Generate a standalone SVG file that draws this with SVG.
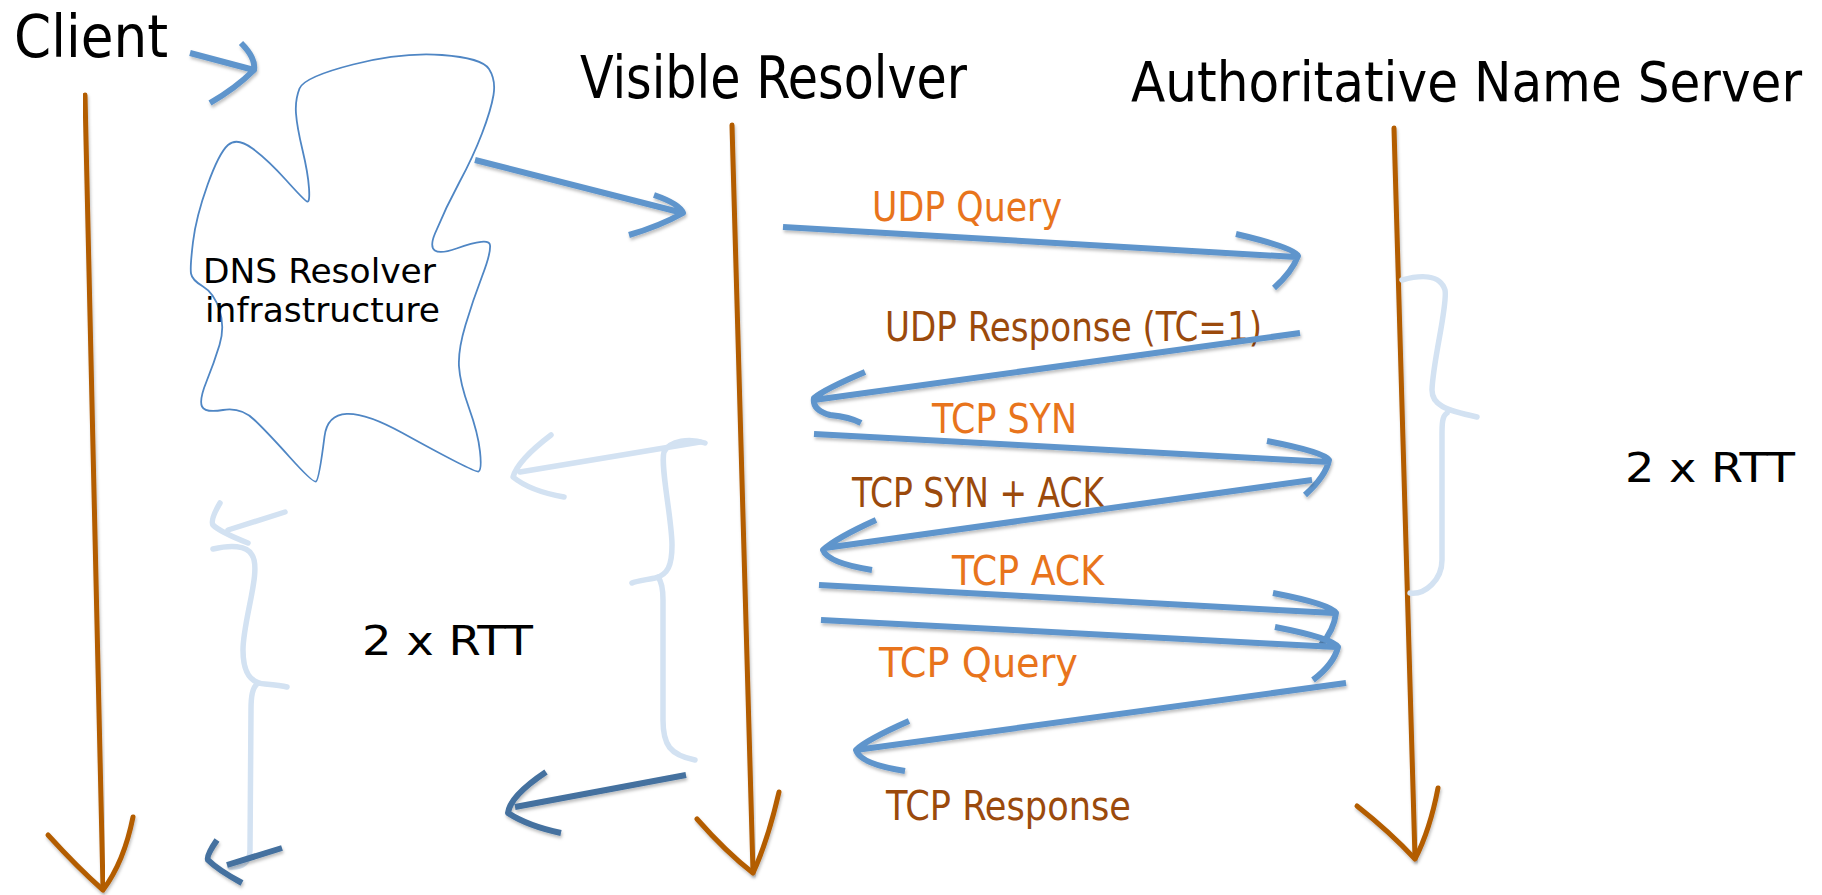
<svg xmlns="http://www.w3.org/2000/svg" width="1822" height="895" viewBox="0 0 1822 895">
<defs>
<filter id="sh" x="-10%" y="-10%" width="120%" height="130%">
<feDropShadow dx="1" dy="2.5" stdDeviation="1.5" flood-color="#000" flood-opacity="0.25"/>
</filter>
</defs>
<style>
text{font-family:"DejaVu Sans Condensed","DejaVu Sans",sans-serif;}
.title{font-size:58px;fill:#000;}
.lbl{font-size:40px;}
.or{fill:#e8741c;}
.br{fill:#9b4a0c;}
.blk{fill:#000;}
.life{fill:none;stroke:#b35d00;stroke-width:5;stroke-linecap:round;stroke-linejoin:round;filter:url(#sh);}
.arr{fill:none;stroke:#5f95cc;stroke-width:6;stroke-linecap:butt;stroke-linejoin:round;filter:url(#sh);}
.light{fill:none;stroke:#d3e2f2;stroke-width:5.5;stroke-linecap:round;stroke-linejoin:round;}
.dark{fill:none;stroke:#44719f;stroke-width:6;stroke-linecap:butt;stroke-linejoin:round;filter:url(#sh);}
.cloud{fill:none;stroke:#4f86c4;stroke-width:1.8;}
</style>
<rect width="1822" height="895" fill="#fff"/>

<g id="client">
<text class="title" x="14" y="57" textLength="154" lengthAdjust="spacingAndGlyphs">Client</text>
<path class="life" d="M85,95 L103,888"/>
<path class="life" d="M48,835 Q78,868 103,890 Q124,862 133,817"/>
</g>

<g id="visible-resolver">
<text class="title" x="580" y="98" textLength="387" lengthAdjust="spacingAndGlyphs">Visible Resolver</text>
<path class="life" d="M732,125 L753,872"/>
<path class="life" d="M697,819 Q726,852 753,873 Q768,840 779,792"/>
</g>

<g id="authoritative">
<text class="title" x="1131" y="101" font-size="55" textLength="671" lengthAdjust="spacingAndGlyphs" style="font-size:55px">Authoritative Name Server</text>
<path class="life" d="M1394,128 L1415,858"/>
<path class="life" d="M1357,806 Q1390,832 1415,859 Q1430,830 1438,788"/>
</g>

<g id="dns-cloud">
<path class="cloud" d="M299.5,88.5 Q304,77 353,64.5 Q402,52 442,55 Q482,58 489,69 Q496,80 493.5,95 Q491,110 482,133.5 Q473,157 459.5,182 Q446,207 435,233.5 Q424,260 456.5,248.5 Q489,237 490,245 Q491,253 482,276.5 Q473,300 465.5,325 Q458,350 459,366.5 Q460,383 469,408 Q478,433 480,451.5 Q482,470 478.5,471.5 Q475,473 402.5,433 Q330,393 324.5,436.5 Q319,480 316,481.5 Q313,483 290.5,458 Q268,433 254.5,420 Q241,407 223,410 Q205,413 202,406.5 Q199,400 206.5,381.5 Q214,363 219.5,345 Q225,327 219.5,310 Q214,293 203,286.5 Q192,280 191,273.5 Q190,267 193,242 Q196,217 207.5,185 Q219,153 228,145 Q237,137 252.5,148.5 Q268,160 286,180 Q304,200 307,201.5 Q310,203 309,188 Q308,173 302.5,150 Q297,127 296,113.5 Q295,100 299.5,88.5 Z"/>
<text class="blk" x="203" y="283" font-size="33.5" textLength="233" lengthAdjust="spacingAndGlyphs">DNS Resolver</text>
<text class="blk" x="205" y="322" font-size="33.5" textLength="235" lengthAdjust="spacingAndGlyphs">infrastructure</text>
</g>

<g id="rtt-left">
<text class="blk lbl" x="362" y="655" textLength="171" lengthAdjust="spacingAndGlyphs">2 x RTT</text>
</g>
<g id="rtt-right">
<text class="blk lbl" x="1625" y="482" textLength="170" lengthAdjust="spacingAndGlyphs">2 x RTT</text>
</g>

<g id="labels">
<text class="lbl or" x="872" y="221" textLength="190" lengthAdjust="spacingAndGlyphs">UDP Query</text>
<text class="lbl br" x="885" y="341" textLength="377" lengthAdjust="spacingAndGlyphs">UDP Response (TC=1)</text>
<text class="lbl or" x="932" y="433" textLength="145" lengthAdjust="spacingAndGlyphs">TCP SYN</text>
<text class="lbl br" x="852" y="507" textLength="252" lengthAdjust="spacingAndGlyphs">TCP SYN + ACK</text>
<text class="lbl or" x="952" y="585" textLength="152" lengthAdjust="spacingAndGlyphs">TCP ACK</text>
<text class="lbl or" x="879" y="677" textLength="199" lengthAdjust="spacingAndGlyphs">TCP Query</text>
<text class="lbl br" x="886" y="820" textLength="245" lengthAdjust="spacingAndGlyphs">TCP Response</text>
</g>

<g id="connectors">
<!-- client to cloud -->
<path class="arr" d="M190,53 L254,70 M241,43 Q256,58 254,70 Q236,88 210,103"/>
<!-- cloud to resolver -->
<path class="arr" d="M475,160 L683,213 M654,195 Q680,204 683,213 Q660,226 629,235"/>
<!-- UDP query -->
<path class="arr" d="M783,227 L1296,257 M1236,234 Q1296,248 1298,256 Q1292,272 1274,288"/>
<!-- UDP response -->
<path class="arr" d="M1300,333 L814,400 M865,372 Q825,389 814,398 Q812,410 830,415 Q850,417 861,423"/>
<!-- TCP SYN -->
<path class="arr" d="M814,434 L1329,462 M1267,441 Q1324,452 1329,460 Q1326,476 1305,495"/>
<!-- TCP SYN+ACK -->
<path class="arr" d="M1312,480 L825,548 M876,520 Q836,538 823,550 Q828,563 872,570"/>
<!-- TCP ACK -->
<path class="arr" d="M819,585 L1334,613 M1273,593 Q1330,604 1336,613 Q1334,630 1321,645"/>
<!-- TCP Query -->
<path class="arr" d="M821,620 L1336,647 M1275,627 Q1332,638 1338,647 Q1334,664 1313,680"/>
<!-- TCP Response -->
<path class="arr" d="M1346,683 L856,750 M909,721 Q866,740 856,750 Q860,764 905,771"/>
<!-- braces -->
<path class="light" d="M1402,280 C1420,275 1440,274 1445,290 C1448,305 1433,360 1432,390 C1432,405 1445,410 1477,417 M1447,413 C1442,416 1442,425 1442,435 L1442,560 C1442,580 1425,595 1410,593"/>
<path class="light" d="M705,443 C690,438 670,440 664,452 C660,465 672,520 672,545 C672,565 668,575 655,578 C645,580 636,581 632,583 M658,577 C662,582 663,590 663,600 L663,720 C663,745 670,755 695,760"/>
<path class="light" d="M213,549 C230,545 247,545 252,555 C262,570 243,620 243,650 C243,672 250,683 265,684 C275,685 283,686 287,687 M258,683 C252,688 251,697 251,710 L250,850 C250,862 242,868 230,867"/>
<!-- light return arrows -->
<path class="light" d="M700,442 L520,472 M551,435 Q518,460 513,477 Q530,491 564,497"/>
<path class="light" d="M285,512 L228,530 M220,503 Q210,520 213,525 Q220,532 248,543"/>
<!-- dark return arrows -->
<path class="dark" d="M686,775 L515,807 M546,772 Q510,796 508,813 Q528,826 561,833"/>
<path class="dark" d="M282,848 L227,865 M217,840 Q206,856 208,860 Q218,870 242,883"/>
</g>
</svg>
